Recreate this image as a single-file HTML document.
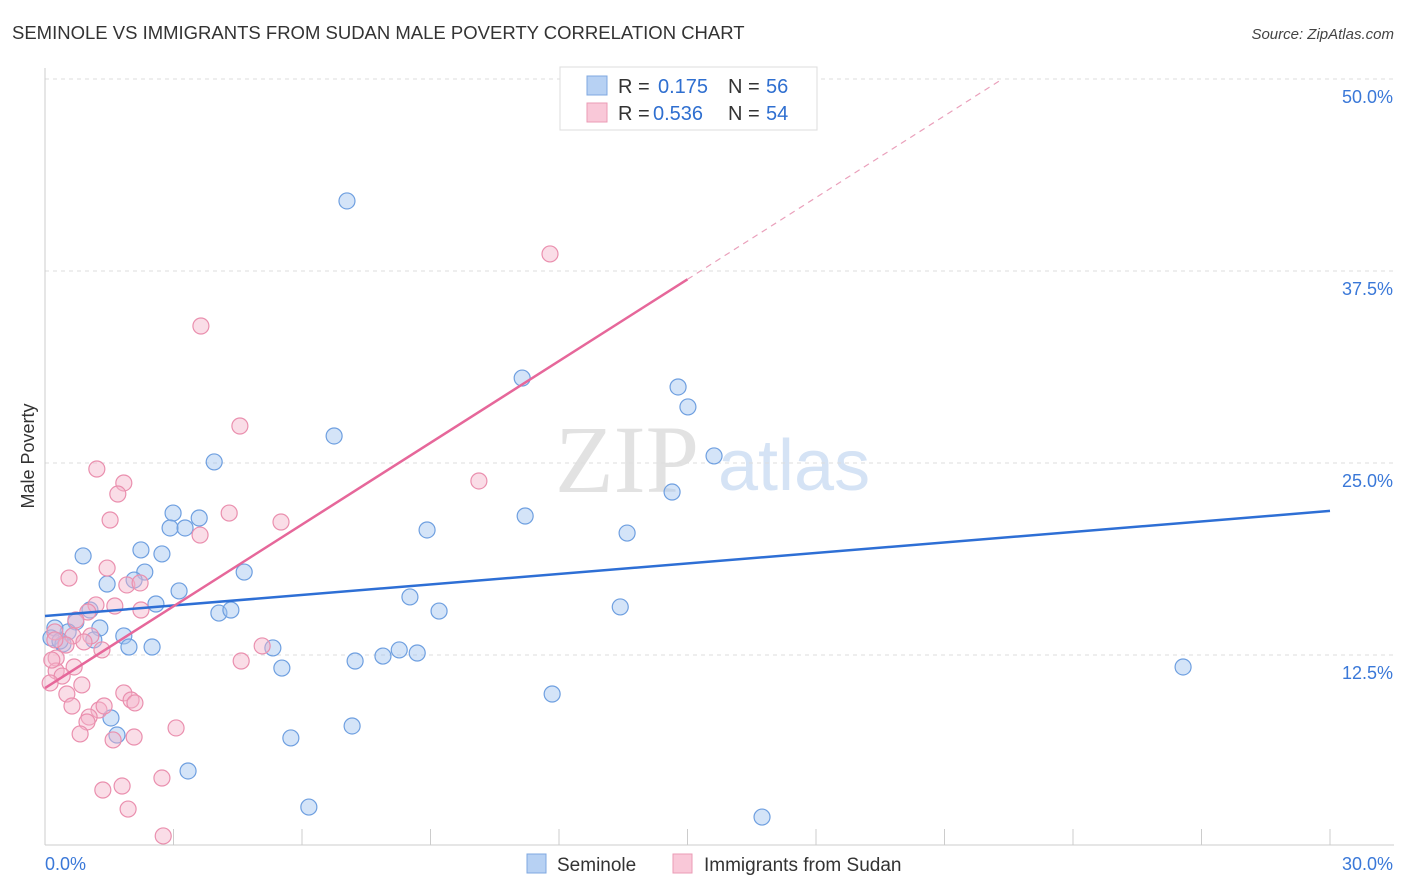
<!DOCTYPE html>
<html><head><meta charset="utf-8"><style>
body{margin:0;background:#fff;font-family:"Liberation Sans",sans-serif;}
svg{display:block}
</style></head><body>
<svg id="chart" width="1406" height="892" xmlns="http://www.w3.org/2000/svg">
<text x="12" y="39" font-size="18.5" fill="#333">SEMINOLE VS IMMIGRANTS FROM SUDAN MALE POVERTY CORRELATION CHART</text>
<text x="1394" y="39" font-size="15" fill="#444" font-style="italic" text-anchor="end">Source: ZipAtlas.com</text>
<text x="555" y="492" font-size="96" fill="#e2e2e2" font-family="Liberation Serif,serif">ZIP</text>
<text x="718" y="490" font-size="72" fill="#d5e3f5">atlas</text>
<text transform="translate(34,456) rotate(-90)" font-size="18" fill="#333" text-anchor="middle">Male Poverty</text>
<g id="grid"></g><g id="marks"></g>
<g>
<rect x="560" y="67" width="257" height="63" fill="#fff" stroke="#ddd"/>
<rect x="587" y="76" width="20" height="19" fill="#b7d1f3" stroke="#7fa8e0"/>
<rect x="587" y="103" width="20" height="19" fill="#f9c8d8" stroke="#eb9bb6"/>
<text x="618" y="93" font-size="20" fill="#333">R =</text>
<text x="658" y="93" font-size="20" fill="#2f6fd0">0.175</text>
<text x="728" y="93" font-size="20" fill="#333">N =</text>
<text x="766" y="93" font-size="20" fill="#2f6fd0">56</text>
<text x="618" y="120" font-size="20" fill="#333">R =</text>
<text x="653" y="120" font-size="20" fill="#2f6fd0">0.536</text>
<text x="728" y="120" font-size="20" fill="#333">N =</text>
<text x="766" y="120" font-size="20" fill="#2f6fd0">54</text>
</g>
<g>
<rect x="527" y="854" width="19" height="19" fill="#b7d1f3" stroke="#7fa8e0"/>
<text x="557" y="871" font-size="19" fill="#333">Seminole</text>
<rect x="673" y="854" width="19" height="19" fill="#f9c8d8" stroke="#eb9bb6"/>
<text x="704" y="871" font-size="19" fill="#333">Immigrants from Sudan</text>
</g>
</svg>
<script>
const yTicks=[12.5,25,37.5,50];
const yTickLabels=["12.5%","25.0%","37.5%","50.0%"];
const xTicks=[0,3,6,9,12,15,18,21,24,27,30];
const blueX=[7.05,11.14,14.78,15.01,6.75,3.95,15.62,14.64,2.99,3.60,2.92,3.27,11.21,8.92,13.59,0.89,2.24,2.73,2.33,4.65,1.45,2.08,3.13,8.52,2.59,1.05,4.06,4.34,9.20,13.43,0.72,1.28,0.54,0.23,0.14,0.42,0.35,1.14,1.84,1.96,2.50,5.32,8.27,8.69,7.89,7.24,5.53,11.84,26.57,1.54,1.68,7.17,5.74,3.34,6.16,16.74];
const blueY=[42.06,30.53,29.95,28.65,26.76,25.07,25.46,23.11,21.74,21.42,20.77,20.77,21.55,20.64,20.44,18.95,19.34,19.08,17.90,17.90,17.12,17.38,16.67,16.28,15.82,15.43,15.23,15.43,15.36,15.63,14.65,14.26,14.00,14.26,13.61,13.22,13.41,13.48,13.74,13.02,13.02,12.96,12.83,12.63,12.43,12.11,11.65,9.96,11.72,8.40,7.29,7.88,7.10,4.95,2.60,1.95];
const pinkX=[11.79,3.64,4.55,10.13,1.21,1.84,1.70,4.30,5.51,1.52,3.62,0.56,1.45,1.91,2.22,1.63,1.19,2.24,1.00,0.72,0.23,0.65,1.07,0.91,1.33,0.49,0.26,0.68,0.26,0.40,0.12,0.86,0.51,4.58,5.07,1.84,2.01,2.10,0.63,1.26,1.38,1.03,0.98,0.82,1.59,2.08,3.06,2.73,1.80,1.35,1.94,2.76,0.23,0.16];
const pinkY=[38.61,33.92,27.41,23.83,24.61,23.70,22.98,21.74,21.16,21.29,20.31,17.51,18.16,17.06,17.19,15.69,15.76,15.43,15.30,14.78,14.00,13.74,13.74,13.35,12.83,13.15,12.30,11.72,11.46,11.13,10.68,10.55,9.96,12.11,13.09,10.03,9.57,9.38,9.18,8.92,9.18,8.46,8.14,7.36,6.97,7.16,7.75,4.49,3.97,3.71,2.47,0.72,13.48,12.17];
const blueTrend=[15.04,0.228];
const pinkTrend=[10.35,1.774];
const pinkSolidEnd=15.0;
const NS="http://www.w3.org/2000/svg";
const X0=45,X1=1330,Y0=847,PPY=15.36;
const sx=v=>X0+(X1-X0)*v/30, sy=v=>Y0-v*PPY;
function mk(tag,attrs,parent){const e=document.createElementNS(NS,tag);for(const k in attrs)e.setAttribute(k,attrs[k]);parent.appendChild(e);return e;}
const grid=document.getElementById('grid'),marks=document.getElementById('marks');
yTicks.forEach((t,i)=>{
 const l=mk('line',{x1:X0,x2:1394,y1:sy(t),y2:sy(t),stroke:'#ddd','stroke-dasharray':'4,4'},grid);
 
 
 const tx=mk('text',{x:1393,y:sy(t)+24,'font-size':18,fill:'#3a78d8','text-anchor':'end'},grid);
 tx.textContent=yTickLabels[i];
 
 
});
const ax=mk('line',{x1:X0,x2:X0,y1:68,y2:845,stroke:'#ccc'},grid);


const bx=mk('line',{x1:X0,x2:1394,y1:845,y2:845,stroke:'#ccc'},grid);


xTicks.forEach(t=>{const l=mk('line',{x1:sx(t),x2:sx(t),y1:829,y2:845,stroke:'#ccc'},grid);
 
 });
const xl=mk('text',{x:45,y:870,'font-size':18,fill:'#3a78d8'},grid);xl.textContent='0.0%';


const xr=mk('text',{x:1393,y:870,'font-size':18,fill:'#3a78d8','text-anchor':'end'},grid);xr.textContent='30.0%';


blueX.forEach((x,i)=>{const c=mk('circle',{cx:sx(x),cy:sy(blueY[i]),r:8,fill:'rgba(160,196,240,0.45)',stroke:'#6e9fe0','stroke-width':1.2},marks);
 
 });
pinkX.forEach((x,i)=>{const c=mk('circle',{cx:sx(x),cy:sy(pinkY[i]),r:8,fill:'rgba(245,180,202,0.45)',stroke:'#ea8fae','stroke-width':1.2},marks);
 
 });
const bl=mk('line',{x1:sx(0),y1:sy(blueTrend[0]),x2:sx(30),y2:sy(blueTrend[0]+blueTrend[1]*30),stroke:'#2e6fd5','stroke-width':2.5},marks);


const pl=mk('line',{x1:sx(0),y1:sy(pinkTrend[0]),x2:sx(pinkSolidEnd),y2:sy(pinkTrend[0]+pinkTrend[1]*pinkSolidEnd),stroke:'#e6679a','stroke-width':2.5},marks);


const xe=(50-pinkTrend[0])/pinkTrend[1];
const pd=mk('line',{x1:sx(pinkSolidEnd),y1:sy(pinkTrend[0]+pinkTrend[1]*pinkSolidEnd),x2:sx(xe),y2:sy(50),stroke:'#eaa0bb','stroke-width':1.2,'stroke-dasharray':'6,5'},marks);


</script>
</body></html>
